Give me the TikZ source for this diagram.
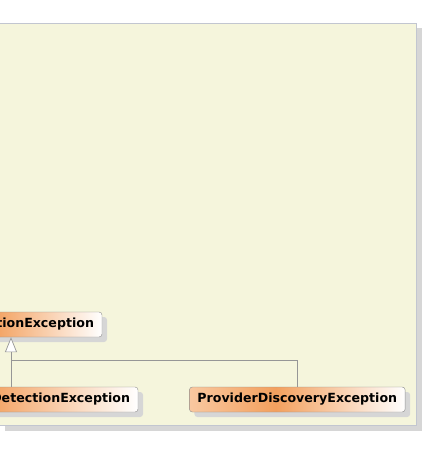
\documentclass[tikz,border=0pt]{standalone}
\usepackage{fontspec}
\setsansfont{DejaVu Sans}
\usetikzlibrary{positioning,shadows,arrows.meta}

\definecolor{paneFill}{RGB}{245,245,220}
\definecolor{paneLine}{RGB}{194,198,208}
\definecolor{paneShadow}{RGB}{214,214,214}
\definecolor{clsOrange}{RGB}{243,160,94}
\definecolor{clsLight}{RGB}{249,200,160}
\definecolor{clsLine}{RGB}{140,140,140}
\definecolor{relLine}{RGB}{150,150,150}

\pgfdeclarehorizontalshading{clsShade}{100bp}{color(0bp)=(clsLight); color(25bp)=(clsLight);
  color(45bp)=(clsOrange); color(75bp)=(white); color(100bp)=(white)}

\tikzset{
  cls/.style={draw=clsLine, rounded corners=3pt, shading=clsShade,
    font=\sffamily\bfseries\fontsize{12.6}{15}\selectfont, inner xsep=8pt,
    inner ysep=0pt, minimum height=25pt,
    drop shadow={shadow xshift=5pt, shadow yshift=-5pt, fill=paneShadow, opacity=1}},
  cut/.style={align=right, text width=#1},
  gen/.style={draw=relLine, line width=0.7pt, -{Triangle[open, length=15pt, width=12pt, fill=white]}},
  rel/.style={draw=relLine, line width=0.7pt}
}

\begin{document}
\begin{tikzpicture}[x=1pt, y=-1pt]
  \useasboundingbox (0,0) rectangle (424,468);
  \fill[white] (0,0) rectangle (424,468);

  % Paket
  \fill[paneShadow] (5,28) rectangle (422,431);
  \draw[paneLine, fill=paneFill] (-5,23) rectangle (416,425);

  % Klassen
  \node[cls, cut=166pt] (cfgEx) at (11,324.5) {tionException};
  \node[cls, cut=238pt] (detEx) at (11,399.5) {DetectionException};
  \node[cls, right=51pt of detEx] (provEx) {ProviderDiscoveryException};

  % Generalisierung
  \draw[rel] (provEx.north) -- ++(0,-26) -| (detEx.north);
  \draw[gen] (detEx.north) -- (cfgEx.south);
\end{tikzpicture}
\end{document}
